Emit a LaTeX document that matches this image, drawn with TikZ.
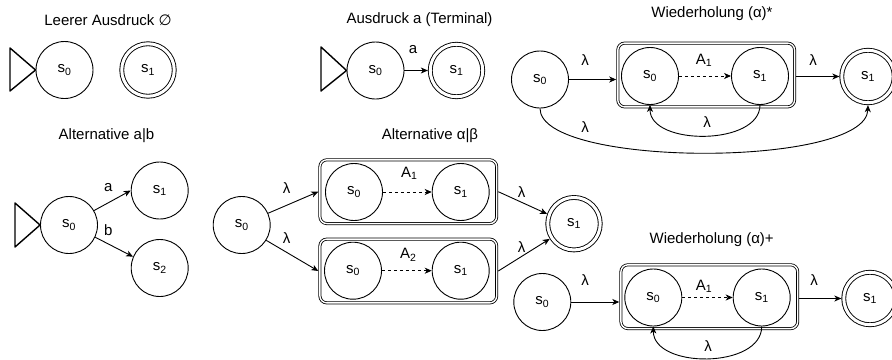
\documentclass[tikz,border=0pt]{standalone}
\usepackage{fontspec}
\setmainfont{Liberation Sans}
\newfontfamily\symfam{DejaVu Sans}
\usetikzlibrary{arrows.meta}
\newcommand{\st}[1]{s\textsubscript{#1}}

\begin{document}
\begin{tikzpicture}[x=1pt,y=-1pt,
  every node/.style={font=\fontsize{15}{18}\selectfont},
  state/.style={circle,draw,line width=0.9pt,minimum size=57pt,inner sep=0pt},
  accept/.style={circle,draw,line width=0.9pt,double,double distance=3pt,
    minimum size=52.5pt,inner sep=0pt,outer sep=2.4pt},
  subauto/.style={draw,line width=0.8pt,double,double distance=1.4pt,
    rounded corners=7pt,minimum width=176.8pt,minimum height=63.8pt,
    inner sep=0pt,outer sep=1.6pt},
  edge/.style={line width=0.9pt,-{Stealth[length=7pt,width=6pt,inset=2pt]}},
  dashedge/.style={edge,dash pattern=on 3pt off 3pt},
  startmark/.style={line width=1.4pt,line join=round},
  title/.style={inner sep=0pt},
  lbl/.style={inner sep=0pt}
]
\useasboundingbox (0,0) rectangle (892,359);

% ---------- empty expression ----------
\node[title] (t1) at (108,20) {Leerer Ausdruck {\symfam ∅}};
\node[state]  (e0) at (64.5,70) {\st0};
\node[accept] (e1) at (148,70) {\st1};
\draw[startmark] (10,48) -- (e0.west) -- (10,91) -- cycle;

% ---------- terminal a ----------
\node[title] (t2) at (419.5,20) {Ausdruck a (Terminal)};
\node[state]  (a0) at (375.5,70.5) {\st0};
\node[accept] (a1) at (456.5,70.5) {\st1};
\draw[startmark] (321,47) -- (a0.west) -- (321,91) -- cycle;
\draw[edge] (a0) -- (a1);
\node[lbl] (la) at (413,50) {a};

% ---------- alternative a|b ----------
\node[title] (t3) at (106.5,136) {Alternative a|b};
\node[state] (b0) at (69,225) {\st0};
\node[state] (b1) at (159.7,190.5) {\st1};
\node[state] (b2) at (159.7,268) {\st2};
\draw[startmark] (15,203) -- (b0.west) -- (15,247) -- cycle;
\draw[edge] (b0.30) -- (b1.west);
\draw[edge] (b0.-25) -- (b2.157);
\node[lbl] (lba) at (108.3,187.5) {a};
\node[lbl] (lbb) at (108.3,230) {b};

% ---------- alternative alpha|beta ----------
\node[title] (t4) at (430,136) {Alternative α|β};
\node[state] (c0) at (241.7,225) {\st0};
\node[subauto] (cb1) at (408.3,191.7) {};
\node[subauto] (cb2) at (408.3,271) {};
\node[state] (c10) at (354,192) {\st0};
\node[state] (c11) at (460.7,192) {\st1};
\node[state] (c20) at (353,270.7) {\st0};
\node[state] (c21) at (460.7,270.7) {\st1};
\node[accept] (cf) at (574,223.7) {\st1};
\draw[dashedge] (c10) -- (c11);
\draw[dashedge] (c20) -- (c21);
\node[lbl] (lA1) at (409.3,173.3) {A\textsubscript{1}};
\node[lbl] (lA2) at (408.3,255) {A\textsubscript{2}};
\draw[edge] (c0.24) -- (cb1.west);
\draw[edge] (c0.-32) -- (cb2.west);
\draw[edge] (cb1.east) -- (cf.160);
\draw[edge] (cb2.east) -- (cf.212);
\node[lbl] (lc1) at (286.7,187.7) {λ};
\node[lbl] (lc2) at (286.7,238.3) {λ};
\node[lbl] (lc3) at (521.7,191.7) {λ};
\node[lbl] (lc4) at (521.7,246.7) {λ};

% ---------- repetition (alpha)* ----------
\node[title] (t5) at (712,14) {Wiederholung (α)*};
\node[state] (d0) at (540,79.5) {\st0};
\node[subauto] (db) at (706.2,75) {};
\node[state] (d10) at (650,76) {\st0};
\node[state] (d11) at (760,76) {\st1};
\node[accept] (df) at (868,76.5) {\st1};
\draw[dashedge] (d10) -- (d11);
\node[lbl] (lA3) at (704,60) {A\textsubscript{1}};
\draw[edge] (d0.east) -- (d0.east -| db.west);
\draw[edge] (df.west -| db.east) -- (df.west);
\draw[edge] (d11.south) .. controls (760,146) and (650,146) .. (d10.south);
\draw[edge] (d0.south) .. controls (540,168) and (866,168) .. (df.south);
\node[lbl] (ld1) at (585,60) {λ};
\node[lbl] (ld2) at (813,60) {λ};
\node[lbl] (ld3) at (707,122) {λ};
\node[lbl] (ld4) at (585,127) {λ};

% ---------- repetition (alpha)+ ----------
\node[title] (t6) at (711.7,240) {Wiederholung (α)+};
\node[state] (p0) at (542.3,302) {\st0};
\node[subauto] (pb) at (709.3,296.7) {};
\node[state] (p10) at (653.3,297.5) {\st0};
\node[state] (p11) at (761.7,297.5) {\st1};
\node[accept] (pf) at (870,298.5) {\st1};
\draw[dashedge] (p10) -- (p11);
\node[lbl] (lA4) at (704,286) {A\textsubscript{1}};
\draw[edge] (p0.east) -- (p0.east -| pb.west);
\draw[edge] (pf.west -| pb.east) -- (pf.west);
\draw[edge] (p11.south) .. controls (761.7,369) and (653.3,369) .. (p10.south);
\node[lbl] (lp1) at (585,280) {λ};
\node[lbl] (lp2) at (814,280) {λ};
\node[lbl] (lp3) at (708,346) {λ};
\end{tikzpicture}
\end{document}
